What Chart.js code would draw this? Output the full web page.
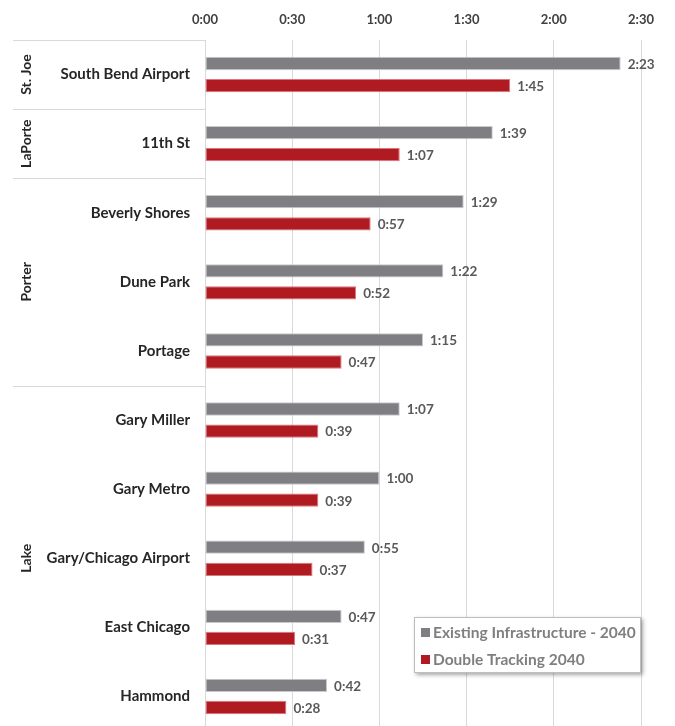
<!DOCTYPE html>
<html>
<head>
<meta charset="utf-8">
<script src="https://cdn.jsdelivr.net/npm/chart.js@4/dist/chart.umd.min.js"></script>
<style>
html,body{margin:0;padding:0;background:#fff;overflow:hidden;}
canvas{display:block;}
</style>
</head>
<body>
<canvas id="c" width="675" height="731" style="width:675px;height:731px;"></canvas>
<script>
const categories = ['South Bend Airport','11th St','Beverly Shores','Dune Park','Portage','Gary Miller','Gary Metro','Gary/Chicago Airport','East Chicago','Hammond'];
const existingMinutes = [143,99,89,82,75,67,60,55,47,42];
const doubleTrackingMinutes = [105,67,57,52,47,39,39,37,31,28];
const seriesNames = ['Existing Infrastructure - 2040','Double Tracking 2040'];
const groupNames = ['St. Joe','LaPorte','Porter','Lake'];
const groupSizes = [1,1,3,5];
const xTickMin = 0, xTickMax = 150, xTickStep = 30;

const FONT = 'Lato, "Open Sans", sans-serif';
const GREY = '#7f7e83';
const RED = '#b01b22';

function fmt(m){ return Math.floor(m/60) + ':' + String(Math.round(m%60)).padStart(2,'0'); }

const valueLabels = {
  id:'valueLabels',
  afterDatasetsDraw(chart){
    const ctx = chart.ctx;
    ctx.save();
    ctx.font = 'bold 13.5px ' + FONT;
    ctx.fillStyle = '#595959';
    ctx.textBaseline = 'middle';
    ctx.textAlign = 'left';
    chart.data.datasets.forEach((ds,di)=>{
      const meta = chart.getDatasetMeta(di);
      meta.data.forEach((bar,i)=>{
        ctx.fillText(fmt(ds.data[i]), bar.x + 7, bar.y + 1);
      });
    });
    ctx.restore();
  }
};

const groupAxis = {
  id:'groupAxis',
  afterDraw(chart){
    const ctx = chart.ctx, y = chart.scales.y, area = chart.chartArea;
    ctx.save();
    ctx.strokeStyle = '#d9d9d9';
    ctx.lineWidth = 1;
    let start = 0;
    const xLeft = 13;
    groupSizes.forEach((n,g)=>{
      const top = start === 0 ? area.top : (y.getPixelForValue(start-1) + y.getPixelForValue(start))/2;
      const end = start + n - 1;
      const bottom = end === categories.length-1 ? area.bottom : (y.getPixelForValue(end) + y.getPixelForValue(end+1))/2;
      ctx.beginPath();
      ctx.moveTo(xLeft, Math.round(top)+0.5);
      ctx.lineTo(area.left, Math.round(top)+0.5);
      ctx.stroke();
      ctx.save();
      ctx.translate(26, (top+bottom)/2);
      ctx.rotate(-Math.PI/2);
      ctx.font = 'bold 14px ' + FONT;
      ctx.fillStyle = '#262626';
      ctx.textAlign = 'center';
      ctx.textBaseline = 'middle';
      ctx.fillText(groupNames[g], 0, 0);
      ctx.restore();
      start += n;
    });
    ctx.restore();
  }
};

const boxLegend = {
  id:'boxLegend',
  afterDraw(chart){
    const ctx = chart.ctx, area = chart.chartArea;
    const w = 227, h = 56;
    const x = area.right - w, yTop = 617;
    ctx.save();
    ctx.shadowColor = 'rgba(0,0,0,0.35)';
    ctx.shadowBlur = 4;
    ctx.shadowOffsetX = 2;
    ctx.shadowOffsetY = 2;
    ctx.fillStyle = '#fff';
    ctx.fillRect(x, yTop, w, h);
    ctx.restore();
    ctx.save();
    ctx.strokeStyle = '#bfbfbf';
    ctx.lineWidth = 1;
    ctx.strokeRect(x+0.5, yTop+0.5, w-1, h-1);
    ctx.font = 'bold 15.5px ' + FONT;
    ctx.textBaseline = 'middle';
    chart.data.datasets.forEach((ds,i)=>{
      const cy = yTop + 15 + i*27;
      ctx.fillStyle = ds.backgroundColor;
      ctx.fillRect(x+7, cy-4, 9, 9);
      ctx.fillStyle = '#7f7f7f';
      ctx.fillText(ds.label, x+19, cy+1);
    });
    ctx.restore();
  }
};

new Chart(document.getElementById('c'), {
  type:'bar',
  data:{
    labels: categories,
    datasets:[
      {label: seriesNames[0], data: existingMinutes, backgroundColor: GREY, borderColor:'#c9c9cc', borderWidth:1, borderSkipped:false, categoryPercentage:0.64, barPercentage:0.6},
      {label: seriesNames[1], data: doubleTrackingMinutes, backgroundColor: RED, borderColor:'#d9777b', borderWidth:1, borderSkipped:false, categoryPercentage:0.64, barPercentage:0.6}
    ]
  },
  options:{
    indexAxis:'y',
    responsive:false,
    maintainAspectRatio:false,
    devicePixelRatio:1,
    animation:false,
    layout:{padding:{left:0,right:34,top:0,bottom:0}},
    plugins:{legend:{display:false}, tooltip:{enabled:false}},
    scales:{
      x:{
        position:'top',
        min:xTickMin, max:xTickMax,
        ticks:{stepSize:xTickStep, callback:(v)=>fmt(v), font:{family:FONT, size:13, weight:'bold'}, color:'#404040', padding:12},
        grid:{color:'#d9d9d9', drawTicks:false},
        border:{display:false},
        afterFit(s){ s.height = 40; s.paddingLeft = 0; s.paddingRight = 0; }
      },
      y:{
        ticks:{font:{family:FONT, size:15, weight:'bold'}, color:'#262626', padding:15},
        grid:{display:false, drawTicks:false},
        border:{display:true, color:'#d9d9d9'},
        afterFit(s){ s.width = 205; s.paddingTop = 0; s.paddingBottom = 0; }
      }
    }
  },
  plugins:[valueLabels, groupAxis, boxLegend]
});
</script>
</body>
</html>
